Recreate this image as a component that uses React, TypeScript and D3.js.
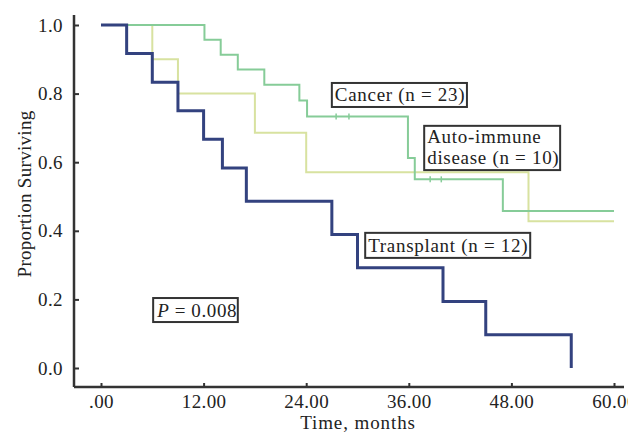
import React, { useEffect, useRef } from "react";
import * as d3 from "d3";

// Kaplan-Meier steps (months, proportion surviving)
const transplantMonths = [0, 3, 6, 9, 12, 14.2, 17, 27, 30, 40, 45, 55];
const transplantSurv = [1, 0.917, 0.833, 0.75, 0.667, 0.583, 0.486, 0.389, 0.292, 0.194, 0.097, 0];

const autoMonths = [0, 6, 9, 18, 24, 50, 60];
const autoSurv = [1, 0.9, 0.8, 0.686, 0.571, 0.428, 0.428];

const cancerMonths = [0, 12.1, 14, 16, 19.1, 23.2, 24.1, 35.9, 36.7, 47, 60];
const cancerSurv = [1, 0.957, 0.913, 0.87, 0.826, 0.78, 0.733, 0.612, 0.55, 0.458, 0.458];
const cancerCensored = [27.5, 29, 38.5, 39.8];

const xTicks = [0, 12, 24, 36, 48, 60];
const yTicks = [0, 0.2, 0.4, 0.6, 0.8, 1.0];

// annotation boxes, in data units
const labels = [
  { lines: ["Cancer (n = 23)"], x0: 27, x1: 42.8, top: 0.831, bottom: 0.761 },
  { lines: ["Auto-immune", "disease (n = 10)"], x0: 37.8, x1: 53.7, top: 0.706, bottom: 0.577 },
  { lines: ["Transplant (n = 12)"], x0: 30.9, x1: 50.2, top: 0.394, bottom: 0.321 },
];
const pBox = { x0: 6.1, x1: 16, top: 0.204, bottom: 0.134 };

const W = 628;
const H = 433;
const font = "'Liberation Serif', 'DejaVu Serif', serif";

const x = d3.scaleLinear().domain([0, 60]).range([101, 614]);
const y = d3.scaleLinear().domain([0, 1]).range([368, 25]);

const axisX = 74;
const axisY = 387;

const step = d3
  .line<[number, number]>()
  .x(d => x(d[0]))
  .y(d => y(d[1]))
  .curve(d3.curveStepAfter);

const zip = (a: number[], b: number[]) => a.map((v, i) => [v, b[i]] as [number, number]);

const survAt = (months: number[], surv: number[], t: number) => {
  const i = d3.bisectRight(months, t) - 1;
  return surv[Math.max(0, i)];
};

const Curve = ({ months, surv, color, width }) => (
  <path d={step(zip(months, surv)) || ""} fill="none" stroke={color} strokeWidth={width} />
);

const Box = ({ x0, x1, top, bottom, children }) => (
  <g>
    <rect
      x={x(x0)}
      y={y(top)}
      width={x(x1) - x(x0)}
      height={y(bottom) - y(top)}
      fill="white"
      stroke="#333"
      strokeWidth={2}
    />
    {children}
  </g>
);

export default function App() {
  const yRef = useRef<SVGGElement>(null);
  const xRef = useRef<SVGGElement>(null);

  useEffect(() => {
    const ya = d3.select(yRef.current);
    ya.call(
      d3
        .axisLeft(y)
        .tickValues(yTicks)
        .tickFormat(d3.format(".1f"))
        .tickSizeInner(-5)
        .tickSizeOuter(0)
        .tickPadding(11)
    );
    ya.select(".domain").remove();
    ya.selectAll("line").attr("stroke", "#333").attr("stroke-width", 2);
    ya.selectAll("text")
      .attr("font-family", font)
      .attr("font-size", 19)
      .attr("letter-spacing", 0.4)
      .attr("fill", "#222");

    const xa = d3.select(xRef.current);
    xa.call(
      d3
        .axisBottom(x)
        .tickValues(xTicks)
        .tickFormat(d => (d === 0 ? ".00" : (d as number).toFixed(2)))
        .tickSizeInner(-4)
        .tickSizeOuter(0)
        .tickPadding(8)
    );
    xa.select(".domain").remove();
    xa.selectAll("line").attr("stroke", "#333").attr("stroke-width", 2);
    xa.selectAll("text")
      .attr("font-family", font)
      .attr("font-size", 19)
      .attr("letter-spacing", 0.4)
      .attr("fill", "#222");
  }, []);

  return (
    <svg
      width={W}
      height={H}
      style={{ position: "absolute", left: 0, top: 0, background: "white" }}
      fontFamily={font}
    >
      <g ref={yRef} transform={`translate(${axisX},0)`} />
      <g ref={xRef} transform={`translate(0,${axisY})`} />
      <line x1={axisX} x2={axisX} y1={15} y2={axisY} stroke="#333" strokeWidth={2.5} />
      <line x1={axisX} x2={624} y1={axisY} y2={axisY} stroke="#333" strokeWidth={2.5} />

      <Curve months={autoMonths} surv={autoSurv} color="#d8e2a0" width={2} />
      <Curve months={cancerMonths} surv={cancerSurv} color="#86cc98" width={2} />
      {cancerCensored.map((t, i) => (
        <line
          key={i}
          x1={x(t)}
          x2={x(t)}
          y1={y(survAt(cancerMonths, cancerSurv, t)) - 3}
          y2={y(survAt(cancerMonths, cancerSurv, t)) + 3}
          stroke="#86cc98"
          strokeWidth={1.5}
        />
      ))}
      <Curve months={transplantMonths} surv={transplantSurv} color="#33427f" width={3} />

      {labels.map((l, i) => (
        <Box key={i} x0={l.x0} x1={l.x1} top={l.top} bottom={l.bottom}>
          {l.lines.map((s, j) => (
            <text
              key={j}
              x={x(l.x0) + 3}
              y={y(l.bottom) - 6 - (l.lines.length - 1 - j) * 21}
              fontSize={19}
              letterSpacing={0.7}
              fill="#222"
            >
              {s}
            </text>
          ))}
        </Box>
      ))}

      <Box x0={pBox.x0} x1={pBox.x1} top={pBox.top} bottom={pBox.bottom}>
        <text
          x={x(pBox.x0) + 4}
          y={y(pBox.bottom) - 5}
          fontSize={19}
          letterSpacing={0.6}
          fill="#222"
        >
          <tspan fontStyle="italic">P</tspan> = 0.008
        </text>
      </Box>

      <text x={358} y={429} textAnchor="middle" fontSize={19} letterSpacing={0.9} fill="#222">
        Time, months
      </text>
      <text
        transform="translate(31,194) rotate(-90)"
        textAnchor="middle"
        fontSize={19}
        letterSpacing={0.3}
        fill="#222"
      >
        Proportion Surviving
      </text>
    </svg>
  );
}
